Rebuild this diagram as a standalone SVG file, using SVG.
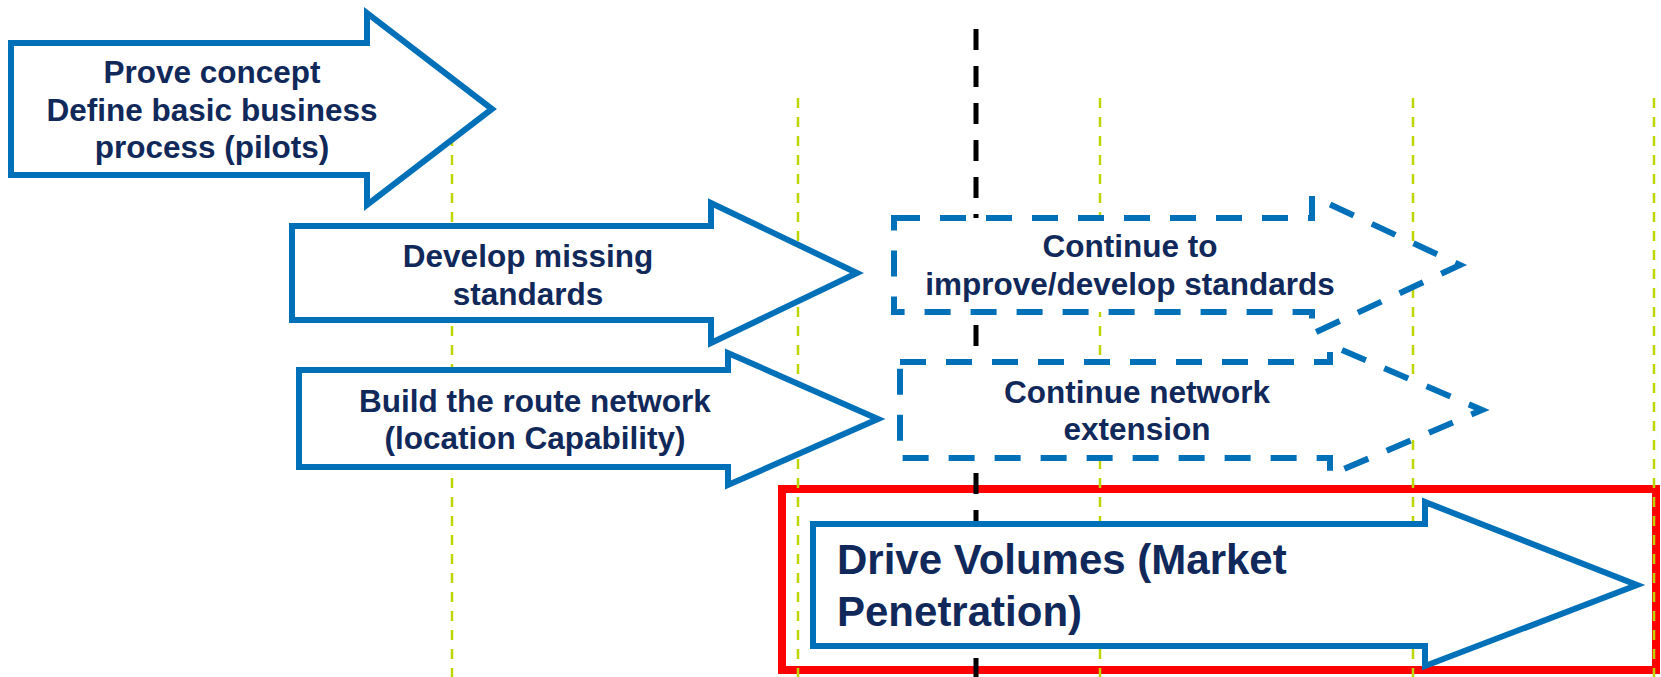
<svg xmlns="http://www.w3.org/2000/svg" width="1661" height="677" viewBox="0 0 1661 677">
<style>
.bg{fill:#ffffff}
.grid{stroke:#bed600;stroke-width:2.5;stroke-dasharray:10 9;fill:none}
.axis{stroke:#000000;stroke-width:5;stroke-dasharray:21 16;fill:none}
.solid{fill:#ffffff;stroke:#0070b8;stroke-width:6;stroke-linejoin:miter}
.dashed{fill:#ffffff;stroke:#0070b8;stroke-width:6;stroke-dasharray:26 20;stroke-linejoin:miter}
.frame{fill:none;stroke:#ff0000;stroke-width:8}
.t{font-family:"Liberation Sans",Arial,sans-serif;font-weight:bold;fill:#10295a;font-size:31.5px;text-anchor:middle}
.big{font-family:"Liberation Sans",Arial,sans-serif;font-weight:bold;fill:#10295a;font-size:42px}
</style>
<rect class="bg" x="0" y="0" width="1661" height="677"/>
<g id="highlight">
<rect class="frame" x="782" y="489" width="874" height="181"/>
</g>
<g id="connectors">
<line class="grid" x1="452" y1="98" x2="452" y2="677"/>
<line class="grid" x1="798" y1="98" x2="798" y2="677"/>
<line class="grid" x1="1100" y1="98" x2="1100" y2="677"/>
<line class="grid" x1="1413" y1="98" x2="1413" y2="677"/>
<line class="grid" x1="1654" y1="98" x2="1654" y2="677"/>
<line class="axis" x1="976" y1="29" x2="976" y2="677"/>
</g>
<g id="prove-concept">
<polygon class="solid" points="11,43 367,43 367,13 492,109 367,205 367,175 11,175"/>
<text class="t" x="212" y="83">Prove concept</text>
<text class="t" x="212" y="121">Define basic business</text>
<text class="t" x="212" y="158">process (pilots)</text>
</g>
<g id="develop-standards">
<polygon class="solid" points="292,226 711,226 711,203 857,273 711,343 711,320 292,320"/>
<text class="t" x="528" y="267">Develop missing</text>
<text class="t" x="528" y="305">standards</text>
</g>
<g id="build-network">
<polygon class="solid" points="299,370 728,370 728,353 878,419 728,485 728,467 299,467"/>
<text class="t" x="535" y="412">Build the route network</text>
<text class="t" x="535" y="449">(location Capability)</text>
</g>
<g id="continue-standards">
<polygon class="dashed" points="894,218 1312,218 1312,196 1460,265 1312,334 1312,312 894,312"/>
<text class="t" x="1130" y="257">Continue to</text>
<text class="t" x="1130" y="295">improve/develop standards</text>
</g>
<g id="continue-network">
<polygon class="dashed" points="900,362 1330,362 1330,345 1482,410 1330,475 1330,458 900,458"/>
<text class="t" x="1137" y="403">Continue network</text>
<text class="t" x="1137" y="440">extension</text>
</g>
<g id="drive-volumes">
<polygon class="solid" points="813,524 1425,524 1425,502 1637,585 1425,666 1425,646 813,646"/>
<text class="big" x="837" y="574">Drive Volumes (Market</text>
<text class="big" x="837" y="626">Penetration)</text>
</g>
</svg>
